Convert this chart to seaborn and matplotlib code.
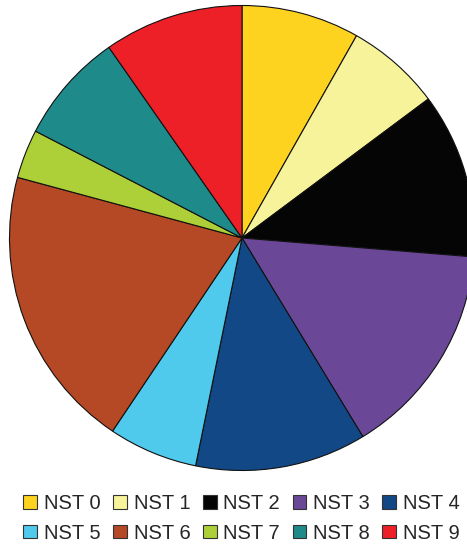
import matplotlib
matplotlib.use("Agg")
import matplotlib.pyplot as plt
import seaborn as sns

# Category shares (percent)
labels = ["NST 0", "NST 1", "NST 2", "NST 3", "NST 4",
          "NST 5", "NST 6", "NST 7", "NST 8", "NST 9"]
shares = [8.2, 6.6, 11.5, 15.0, 11.9, 6.2, 19.8, 3.4, 7.7, 9.7]
colors = ["#FDD320", "#F7F39B", "#050505", "#6B4797", "#134886",
          "#4FC9EC", "#B54825", "#ADD038", "#1E8A8A", "#EE2027"]

sns.set_theme(style="white")
plt.rcParams["font.family"] = ["Liberation Sans", "DejaVu Sans"]

W, H = 467, 551
fig = plt.figure(figsize=(W / 100, H / 100), dpi=100)

# pie centre ~ (242, 238) px, radius ~232.5 px
cx, cy, r = 242, 238, 232.5
ax = fig.add_axes([(cx - r) / W, (H - cy - r) / H, 2 * r / W, 2 * r / H])
wedges, _ = ax.pie(shares, colors=colors, startangle=90, counterclock=False,
                   radius=1, wedgeprops=dict(edgecolor="#111111", linewidth=0.8))
ax.set_xlim(-1, 1)
ax.set_ylim(-1, 1)
ax.set_aspect("equal")
ax.axis("off")

# legend fills column-wise, so reorder to read row-wise
order = [0, 5, 1, 6, 2, 7, 3, 8, 4, 9]
leg = fig.legend([wedges[i] for i in order], [labels[i] for i in order],
                 ncol=5, loc="center",
                 bbox_to_anchor=(241.5 / W, 1 - 518.5 / H),
                 frameon=False, fontsize=14.5,
                 handlelength=0.68, handleheight=0.68,
                 handletextpad=0.34, columnspacing=0.62,
                 labelspacing=0.5, borderpad=0)
for h in leg.legend_handles:
    h.set_edgecolor("#333333")
    h.set_linewidth(0.8)

fig.savefig("out.png", dpi=100)
